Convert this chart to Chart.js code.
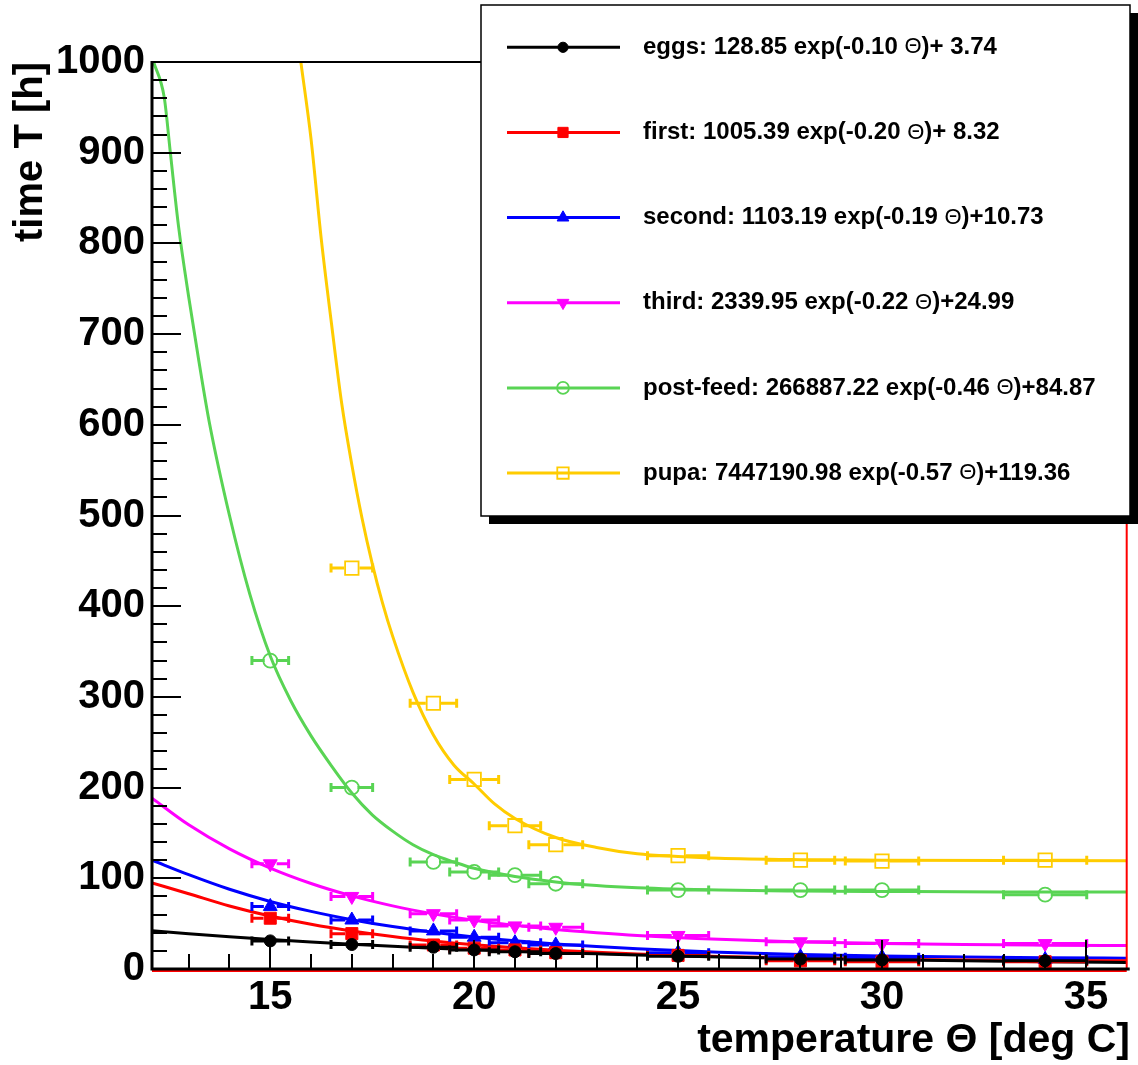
<!DOCTYPE html>
<html>
<head>
<meta charset="utf-8">
<title>Development time vs temperature</title>
<script src="https://cdn.jsdelivr.net/npm/chart.js@4"></script>
<style>
  body { margin: 0; background: #fff; }
  #wrap { width: 1138px; height: 1065px; }
</style>
</head>
<body>
<div id="wrap"><canvas id="devChart" width="1138" height="1065"></canvas></div>
<script>
const temps   = [15, 17, 19, 20, 21, 22, 25, 28, 30, 34];
const tempErr = [0.45, 0.51, 0.57, 0.60, 0.63, 0.66, 0.75, 0.84, 0.90, 1.02];

const eggs     = [31, 27, 24, 21, 19, 17, 14, 11, 10, 9];
const first    = [56, 39, 26.5, 23, 21, 18, 15, 9, 8, 8];
const second   = [69, 54, 42, 35, 29, 26.5, 18, 13.5, 13, 10.5];
const third    = [116, 80, 61, 54, 47.5, 46, 37, 30, 28, 28];
const postFeed = [340, 200, 118, 107, 103.5, 94, 87, 87, 87, 82];
const pupa     = [null, 442, 293, 209, 158, 137, 125, 120, 119, 120];

// Fitted curves
const fitX      = [12.1, 13, 14, 15, 16, 17, 18, 19, 20, 21, 22, 23, 24, 26, 28, 30, 32, 34, 36];
const eggsFit   = [42.2, 38.9, 35.5, 32.5, 29.8, 27.3, 25.0, 23.0, 21.2, 19.5, 18.0, 16.7, 15.4, 13.3, 11.6, 10.2, 9.0, 8.0, 7.3];
const firstFit  = [95, 83.0, 69.5, 58.4, 49.3, 41.9, 35.8, 30.8, 26.7, 23.4, 20.7, 18.4, 16.6, 13.9, 12.0, 10.8, 10.0, 9.4, 9.1];
const secondFit = [120, 104.0, 87.9, 74.5, 63.5, 54.4, 46.8, 40.6, 35.4, 31.1, 27.6, 24.7, 22.3, 18.6, 16.1, 14.4, 13.3, 12.5, 11.9];
const thirdFit  = [188.4, 159.0, 132.5, 111.3, 94.3, 80.6, 69.6, 60.8, 53.7, 48.1, 43.5, 39.9, 36.9, 32.7, 29.9, 28.2, 27.0, 26.3, 25.8];

const postFeedFitX = [12.14, 12.4, 12.55, 12.75, 13.0, 13.25, 13.5, 14.0, 14.5, 15.0, 15.5, 16.0, 16.5, 17.0, 17.5, 18.0, 18.5, 19.0, 19.5, 20.0, 21.0, 22.0, 23.0, 24.0, 26.0, 28.0, 30.0, 33.0, 36.0];
const postFeedFit  = [1000, 961, 900, 819, 741, 670, 604, 500, 413, 345, 296, 257, 224, 194, 170, 152, 137, 126, 118, 111, 102, 96, 92, 89.5, 87, 86, 85.5, 85, 85];

const pupaFitX = [15.75, 16.0, 16.25, 16.5, 16.75, 17.0, 17.25, 17.5, 17.75, 18.0, 18.5, 19.0, 19.5, 20.0, 20.5, 21.0, 22.0, 23.0, 24.0, 25.0, 26.0, 28.0, 30.0, 33.0, 36.0];
const pupaFit  = [1000, 915, 805, 712, 624, 556, 497, 447, 404, 367, 305, 258, 225, 204, 182, 166, 145, 134, 127, 124, 122, 120.5, 120, 119.5, 119.4];

const legendLabels = [
  'eggs: 128.85 exp(-0.10 Θ)+ 3.74',
  'first: 1005.39 exp(-0.20 Θ)+ 8.32',
  'second: 1103.19 exp(-0.19 Θ)+10.73',
  'third: 2339.95 exp(-0.22 Θ)+24.99',
  'post-feed: 266887.22 exp(-0.46 Θ)+84.87',
  'pupa: 7447190.98 exp(-0.57 Θ)+119.36'
];

const xTitle = 'temperature Θ [deg C]';
const yTitle = 'time T [h]';

const FONT = '"Liberation Sans", Arial, Helvetica, sans-serif';

// marker looks, ROOT style
const stages = [
  { color: '#000000', style: 'circle',   rot: 0,   r: 6,   open: false, pts: eggs,     fx: fitX,         fy: eggsFit },
  { color: '#ff0000', style: 'rect',     rot: 0,   r: 8.5, open: false, pts: first,    fx: fitX,         fy: firstFit },
  { color: '#0000ff', style: 'triangle', rot: 0,   r: 8,   open: false, pts: second,   fx: fitX,         fy: secondFit },
  { color: '#ff00ff', style: 'triangle', rot: 180, r: 8,   open: false, pts: third,    fx: fitX,         fy: thirdFit },
  { color: '#59d454', style: 'circle',   rot: 0,   r: 7,   open: true,  pts: postFeed, fx: postFeedFitX, fy: postFeedFit },
  { color: '#ffcc00', style: 'rect',     rot: 0,   r: 9.5, open: true,  pts: pupa,     fx: pupaFitX,     fy: pupaFit }
];

const datasets = [];
stages.forEach((s, i) => {
  datasets.push({
    label: legendLabels[i] + ' fit',
    data: s.fx.map((x, k) => ({ x: x, y: s.fy[k] })),
    showLine: true,
    pointRadius: 0,
    borderColor: s.color,
    borderWidth: 3,
    cubicInterpolationMode: 'monotone',
    order: 2
  });
});
stages.forEach((s, i) => {
  const pts = [], errs = [];
  temps.forEach((t, k) => {
    if (s.pts[k] == null) return;
    pts.push({ x: t, y: s.pts[k] });
    errs.push(tempErr[k]);
  });
  datasets.push({
    label: legendLabels[i],
    data: pts,
    errX: errs,
    showLine: false,
    pointStyle: s.style,
    pointRotation: s.rot,
    pointRadius: s.r,
    backgroundColor: s.open ? 'rgba(0,0,0,0)' : s.color,
    borderColor: s.color,
    borderWidth: s.open ? 1.8 : 1,
    order: 1
  });
});

// horizontal error bars with end caps, drawn just under each marker set
const errorBars = {
  id: 'errorBars',
  beforeDatasetDraw(chart, args) {
    const ds = chart.data.datasets[args.index];
    if (!ds.errX) return;
    const { ctx, chartArea: a, scales: { x, y } } = chart;
    ctx.save();
    ctx.beginPath();
    ctx.rect(a.left, a.top, a.right - a.left, a.bottom - a.top);
    ctx.clip();
    ctx.strokeStyle = ds.borderColor;
    ctx.lineWidth = 3;
    ds.data.forEach((p, i) => {
      const px = x.getPixelForValue(p.x), py = y.getPixelForValue(p.y);
      const lo = x.getPixelForValue(p.x - ds.errX[i]);
      const hi = x.getPixelForValue(p.x + ds.errX[i]);
      const gap = ds.pointRadius * 0.8;
      ctx.beginPath();
      ctx.moveTo(lo, py); ctx.lineTo(px - gap, py);
      ctx.moveTo(px + gap, py); ctx.lineTo(hi, py);
      ctx.moveTo(lo, py - 4.5); ctx.lineTo(lo, py + 4.5);
      ctx.moveTo(hi, py - 4.5); ctx.lineTo(hi, py + 4.5);
      ctx.stroke();
    });
    ctx.restore();
  }
};

// frame and inward tick marks
const frame = {
  id: 'frame',
  afterDatasetsDraw(chart) {
    const { ctx, chartArea: a, scales: { x, y } } = chart;
    ctx.save();
    ctx.strokeStyle = '#ff0000';
    ctx.lineWidth = 2;
    ctx.beginPath();
    ctx.moveTo(a.right, a.top); ctx.lineTo(a.right, a.bottom);
    ctx.moveTo(a.left, a.bottom + 2); ctx.lineTo(a.right, a.bottom + 2);
    ctx.stroke();

    ctx.strokeStyle = '#000';
    ctx.lineWidth = 2;
    ctx.beginPath();
    ctx.moveTo(a.left, a.top); ctx.lineTo(a.right, a.top);
    ctx.stroke();

    ctx.lineWidth = 3;
    ctx.beginPath();
    ctx.moveTo(a.left, a.top - 1); ctx.lineTo(a.left, a.bottom + 1.5);
    ctx.moveTo(a.left - 1.5, a.bottom); ctx.lineTo(a.right + 3, a.bottom);
    ctx.stroke();

    ctx.lineWidth = 2;
    ctx.beginPath();
    y.ticks.forEach(t => {
      const py = Math.round(y.getPixelForValue(t.value));
      const len = t.value % 100 === 0 ? 29 : 15;
      ctx.moveTo(a.left, py); ctx.lineTo(a.left + len, py);
    });
    x.ticks.forEach(t => {
      const px = Math.round(x.getPixelForValue(t.value));
      const len = t.value % 5 === 0 ? 29 : 15;
      ctx.moveTo(px, a.bottom); ctx.lineTo(px, a.bottom - len);
    });
    ctx.stroke();
    ctx.restore();
  }
};

// legend box with shadow, axis titles
const overlay = {
  id: 'overlay',
  afterDraw(chart) {
    const ctx = chart.ctx;
    ctx.save();
    // shadow then box
    ctx.fillStyle = '#000';
    ctx.fillRect(489, 13, 649, 511);
    ctx.fillStyle = '#fff';
    ctx.fillRect(481, 5, 649, 511);
    ctx.strokeStyle = '#000';
    ctx.lineWidth = 1.5;
    ctx.strokeRect(481, 5, 649, 511);

    stages.forEach((s, i) => {
      const ly = 47.3 + i * 85.15;
      ctx.strokeStyle = s.color;
      ctx.lineWidth = 3;
      ctx.beginPath();
      ctx.moveTo(507, ly); ctx.lineTo(620, ly);
      ctx.stroke();
      ctx.fillStyle = s.open ? 'rgba(0,0,0,0)' : s.color;
      ctx.lineWidth = s.open ? 1.8 : 1;
      Chart.helpers.drawPoint(ctx, {
        pointStyle: s.style, radius: s.r * 0.85, rotation: s.rot, borderWidth: ctx.lineWidth
      }, 563, ly);

      // label, theta in regular weight like the ROOT symbol font
      const parts = legendLabels[i].split('Θ');
      let tx = 643;
      ctx.fillStyle = '#000';
      ctx.textBaseline = 'middle';
      ctx.textAlign = 'left';
      ctx.font = 'bold 24px ' + FONT;
      ctx.fillText(parts[0], tx, ly);
      tx += ctx.measureText(parts[0]).width;
      ctx.font = '22px ' + FONT;
      ctx.fillText('Θ', tx, ly);
      tx += ctx.measureText('Θ').width;
      ctx.font = 'bold 24px ' + FONT;
      ctx.fillText(parts[1], tx, ly);
    });

    ctx.fillStyle = '#000';
    ctx.font = 'bold 41px ' + FONT;
    ctx.textBaseline = 'alphabetic';
    ctx.textAlign = 'right';
    ctx.fillText(xTitle, 1130, 1052);

    ctx.font = 'bold 40px ' + FONT;
    ctx.translate(42, 62);
    ctx.rotate(-Math.PI / 2);
    ctx.fillText(yTitle, 0, 0);
    ctx.restore();
  }
};

new Chart(document.getElementById('devChart'), {
  type: 'scatter',
  data: { datasets: datasets },
  plugins: [errorBars, frame, overlay],
  options: {
    responsive: false,
    devicePixelRatio: 1,
    animation: false,
    events: [],
    layout: { padding: { top: 62, right: 8, left: 0, bottom: 0 } },
    plugins: { legend: { display: false }, tooltip: { enabled: false } },
    scales: {
      x: {
        type: 'linear',
        min: 12.1,
        max: 36,
        grid: { display: false, drawTicks: false },
        border: { display: false },
        afterBuildTicks: s => {
          const t = [];
          for (let v = 13; v <= 35; v++) t.push({ value: v });
          s.ticks = t;
        },
        afterFit: s => { s.height = 96; },
        ticks: {
          autoSkip: false,
          maxRotation: 0,
          padding: 5,
          color: '#000',
          font: { family: FONT, size: 40, weight: 'bold' },
          callback: v => (v % 5 === 0 ? String(v) : '')
        }
      },
      y: {
        min: 0,
        max: 1000,
        grid: { display: false, drawTicks: false },
        border: { display: false },
        afterBuildTicks: s => {
          const t = [];
          for (let v = 0; v <= 1000; v += 20) t.push({ value: v });
          s.ticks = t;
        },
        afterFit: s => { s.width = 152; },
        ticks: {
          autoSkip: false,
          padding: 7,
          color: '#000',
          font: { family: FONT, size: 40, weight: 'bold' },
          callback: v => (v % 100 === 0 ? String(v) : '')
        }
      }
    }
  }
});
</script>
</body>
</html>
